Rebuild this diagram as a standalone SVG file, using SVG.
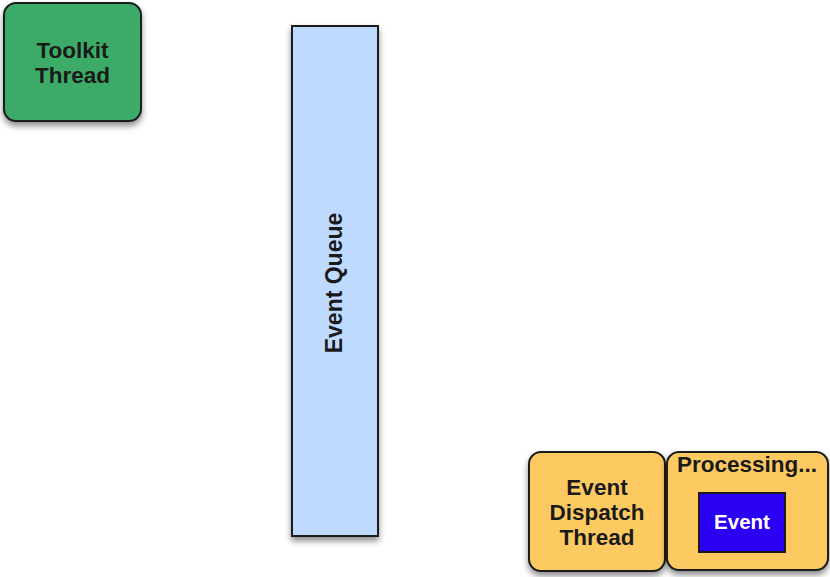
<svg xmlns="http://www.w3.org/2000/svg" width="830" height="577" viewBox="0 0 830 577">
<defs>
<filter id="sh" x="-20%" y="-10%" width="140%" height="130%">
<feDropShadow dx="0" dy="4" stdDeviation="3" flood-color="#000" flood-opacity="0.45"/>
</filter>
</defs>
<style>
.lbl{font-family:"Liberation Sans",Arial,sans-serif;font-weight:bold;font-size:22.5px;fill:#1a1a1a;text-anchor:middle}
.box{stroke:#1a1a1a;stroke-width:2}
</style>
<rect width="830" height="577" fill="#ffffff"/>
<g id="toolkit-thread">
<rect class="box" x="4" y="3" width="137" height="118" rx="12" fill="#3dab67" filter="url(#sh)"/>
<text class="lbl" x="72.5" y="58">Toolkit</text>
<text class="lbl" x="72.5" y="83">Thread</text>
</g>
<g id="event-queue">
<rect class="box" x="292" y="26" width="86" height="510" fill="#bfdaff" filter="url(#sh)"/>
<text class="lbl" transform="translate(342,283) rotate(-90)" style="font-size:23px">Event Queue</text>
</g>
<g id="event-dispatch-thread">
<rect class="box" x="529" y="452" width="136" height="119" rx="12" fill="#fdca62" filter="url(#sh)"/>
<text class="lbl" x="597" y="495">Event</text>
<text class="lbl" x="597" y="520">Dispatch</text>
<text class="lbl" x="597" y="545">Thread</text>
</g>
<g id="processing">
<rect class="box" x="667" y="452" width="161" height="118" rx="12" fill="#fdca62" filter="url(#sh)"/>
<text class="lbl" x="747" y="472">Processing...</text>
</g>
<g id="event">
<rect x="699" y="493" width="86" height="59" fill="#2c00f2" stroke="#1a1a1a" stroke-width="2"/>
<text class="lbl" x="742" y="529" style="fill:#ffffff;font-size:20.5px">Event</text>
</g>
<g id="connectors"></g>
</svg>
